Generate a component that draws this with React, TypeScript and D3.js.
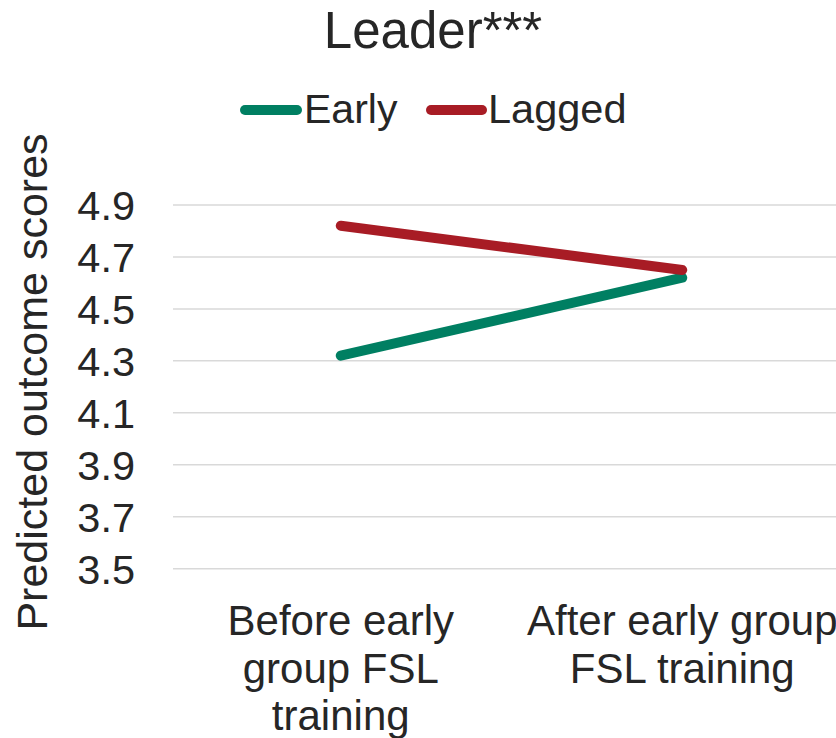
import React from "react";
import * as d3 from "d3";

const categories = ["Before early group FSL training", "After early group FSL training"];
const categoryLines = [
  ["Before early", "group FSL", "training"],
  ["After early group", "FSL training"],
];
const seriesNames = ["Early", "Lagged"];
const earlyValues = [4.32, 4.62];
const laggedValues = [4.82, 4.65];
const seriesColors = ["#007F62", "#A81C25"];
const yTicks = [3.5, 3.7, 3.9, 4.1, 4.3, 4.5, 4.7, 4.9];
const title = "Leader***";
const yTitle = "Predicted outcome scores";

const W = 836;
const H = 738;
const FONT = "'Liberation Sans', Arial, sans-serif";

export default function App() {
  const x = d3.scalePoint<string>().domain(categories).range([170, 853]).padding(0.5);
  const y = d3.scaleLinear().domain([3.5, 4.9]).range([568.7, 205]);
  const line = d3
    .line<number>()
    .x((_, i) => x(categories[i]) as number)
    .y((d) => y(d));
  const series = [earlyValues, laggedValues];

  return (
    <svg
      width={W}
      height={H}
      style={{ position: "absolute", left: 0, top: 0, background: "#fff" }}
      fontFamily={FONT}
    >
      <text x={433} y={48} textAnchor="middle" fontSize={51} fill="#262626">
        {title}
      </text>

      {/* legend */}
      <line x1={245} x2={297} y1={110} y2={110} stroke={seriesColors[0]} strokeWidth={10} strokeLinecap="round" />
      <text x={304} y={123} fontSize={41} fill="#262626">{seriesNames[0]}</text>
      <line x1={431} x2={482} y1={110} y2={110} stroke={seriesColors[1]} strokeWidth={10} strokeLinecap="round" />
      <text x={488} y={123} fontSize={41.5} fill="#262626">{seriesNames[1]}</text>

      {/* gridlines & ticks */}
      {yTicks.map((t) => (
        <g key={t}>
          <line x1={173} x2={W} y1={y(t)} y2={y(t)} stroke="#D9D9D9" strokeWidth={1.5} />
          <text x={135} y={y(t)} dy="0.36em" textAnchor="end" fontSize={41.5} fill="#262626">
            {t.toFixed(1)}
          </text>
        </g>
      ))}

      <text
        transform={`translate(47, 382) rotate(-90)`}
        textAnchor="middle"
        fontSize={43}
        fill="#262626"
      >
        {yTitle}
      </text>

      {/* category labels */}
      {categories.map((c, i) => (
        <text key={c} x={x(c)} y={635} textAnchor="middle" fontSize={42} fill="#262626">
          {categoryLines[i].map((l, j) => (
            <tspan key={j} x={x(c)} dy={j === 0 ? 0 : 47.5}>
              {l}
            </tspan>
          ))}
        </text>
      ))}

      {series.map((s, i) => (
        <path
          key={seriesNames[i]}
          d={line(s) as string}
          fill="none"
          stroke={seriesColors[i]}
          strokeWidth={10}
          strokeLinecap="round"
          strokeLinejoin="round"
        />
      ))}
    </svg>
  );
}
